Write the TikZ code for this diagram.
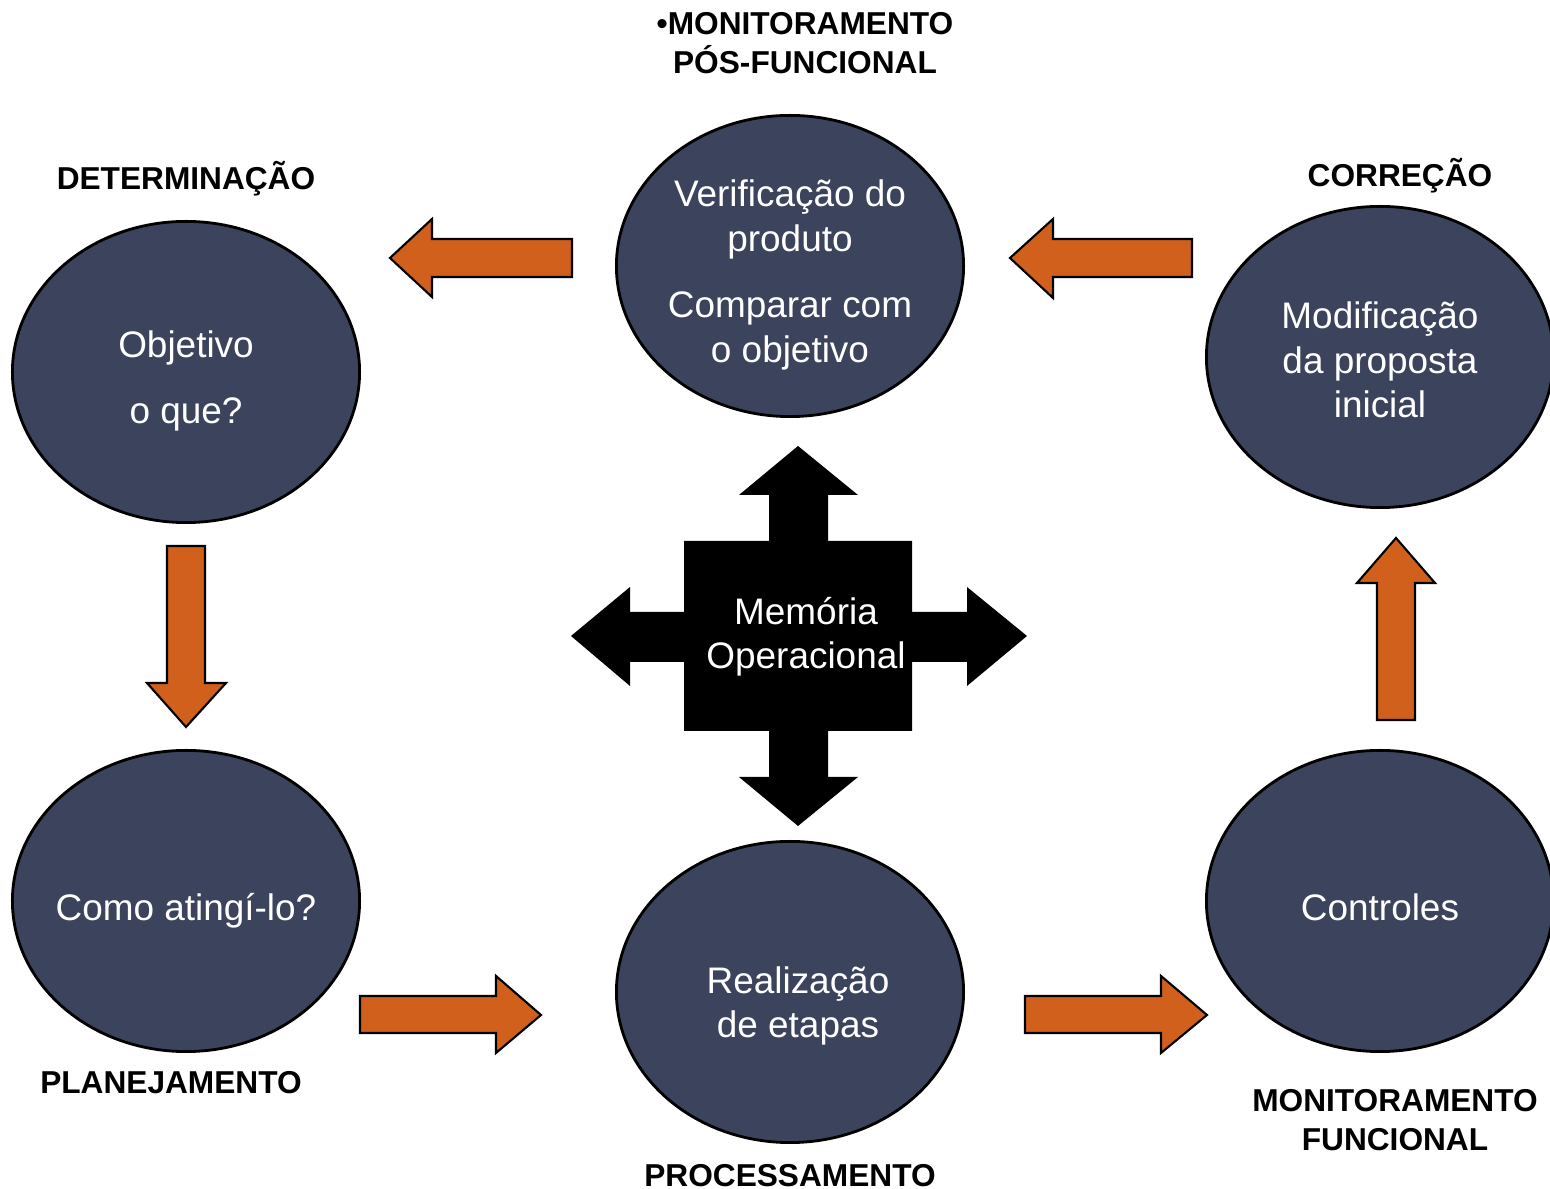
\documentclass[tikz,border=0pt]{standalone}
\usepackage{fontspec}
\setmainfont{Liberation Sans}
\usepackage{tikz}
\usetikzlibrary{shapes.geometric}
\definecolor{ovalblue}{RGB}{59,68,92}
\definecolor{arroworange}{RGB}{208,96,28}
\tikzset{every picture/.style={x=0.01cm,y=-0.01cm}}
\tikzset{
  oval/.style={ellipse, draw=black, line width=0.8pt, fill=ovalblue,
    minimum width=3.47cm, minimum height=3.01cm, inner sep=0pt},
  ovaltext/.style={text=white, align=center, inner sep=0pt,
    font=\fontsize{10.5}{12.6}\selectfont},
  stage/.style={align=center, font=\fontsize{9}{10.9}\selectfont\bfseries},
  blockarrow/.style={draw=black, line width=0.6pt, fill=arroworange, line join=miter}
}

\begin{document}
\begin{tikzpicture}
    \useasboundingbox (0,0) rectangle (1550,1189);
    % Ellipses
    \node[oval] (obj) at (186,372) {};
    \node[oval] (verif) at (790,266) {};
    \node[oval] (modif) at (1380,357) {};
    \node[oval] (como) at (186,901) {};
    \node[oval] (real) at (790,992) {};
    \node[oval] (contr) at (1380,901) {};
    % Ellipse texts
    \node[ovaltext] (obj-txt) at (186,381) {Objetivo\\[6.4pt]o que?};
    \node[ovaltext] (verif-txt) at (790,275) {Verificação do\\produto\\[6.4pt]Comparar com\\o objetivo};
    \node[ovaltext] (modif-txt) at (1380,360) {Modificação\\da proposta\\inicial};
    \node[ovaltext] (como-txt) at (186,911) {Como atingí-lo?};
    \node[ovaltext] (real-txt) at (798,1006) {Realização\\de etapas};
    \node[ovaltext] (contr-txt) at (1380,907) {Controles};
    % Stage labels
    \node[stage] (posfunc) at (805,43) {•MONITORAMENTO\\PÓS-FUNCIONAL};
    \node[stage] (determ) at (186,179) {DETERMINAÇÃO};
    \node[stage] (correc) at (1400,176) {CORREÇÃO};
    \node[stage] (planej) at (171,1083) {PLANEJAMENTO};
    \node[stage] (process) at (790,1176) {PROCESSAMENTO};
    \node[stage] (monfunc) at (1395,1120) {MONITORAMENTO\\FUNCIONAL};
    % Central cross
    \fill[black] (798,446) -- (858,495) -- (828,495) -- (828,541) -- (912,541) -- (912,612)
      -- (967,612) -- (967,587) -- (1027,636) -- (967,686) -- (967,662) -- (912,662)
      -- (912,731) -- (828,731) -- (828,777) -- (858,777) -- (798,826) -- (739,777)
      -- (769,777) -- (769,731) -- (684,731) -- (684,662) -- (630,662) -- (630,686)
      -- (571,636) -- (630,587) -- (630,612) -- (684,612) -- (684,541) -- (769,541)
      -- (769,495) -- (739,495) -- cycle;
    \node[ovaltext] (memoria) at (806,637) {Memória\\Operacional};
    % Orange arrows
    \draw[blockarrow] (390,258) -- (432,219) -- (432,239) -- (572,239) -- (572,277) -- (432,277) -- (432,297) -- cycle;
    \draw[blockarrow] (1010,258) -- (1053,219) -- (1053,239) -- (1192,239) -- (1192,277) -- (1053,277) -- (1053,298) -- cycle;
    \draw[blockarrow] (186,727) -- (147,683) -- (167,683) -- (167,546) -- (205,546) -- (205,683) -- (226,683) -- cycle;
    \draw[blockarrow] (1396,538) -- (1435,583) -- (1415,583) -- (1415,720) -- (1377,720) -- (1377,583) -- (1357,583) -- cycle;
    \draw[blockarrow] (541,1015) -- (496,976) -- (496,996) -- (360,996) -- (360,1033) -- (496,1033) -- (496,1053) -- cycle;
    \draw[blockarrow] (1207,1015) -- (1161,976) -- (1161,996) -- (1025,996) -- (1025,1033) -- (1161,1033) -- (1161,1053) -- cycle;
\end{tikzpicture}
\end{document}
